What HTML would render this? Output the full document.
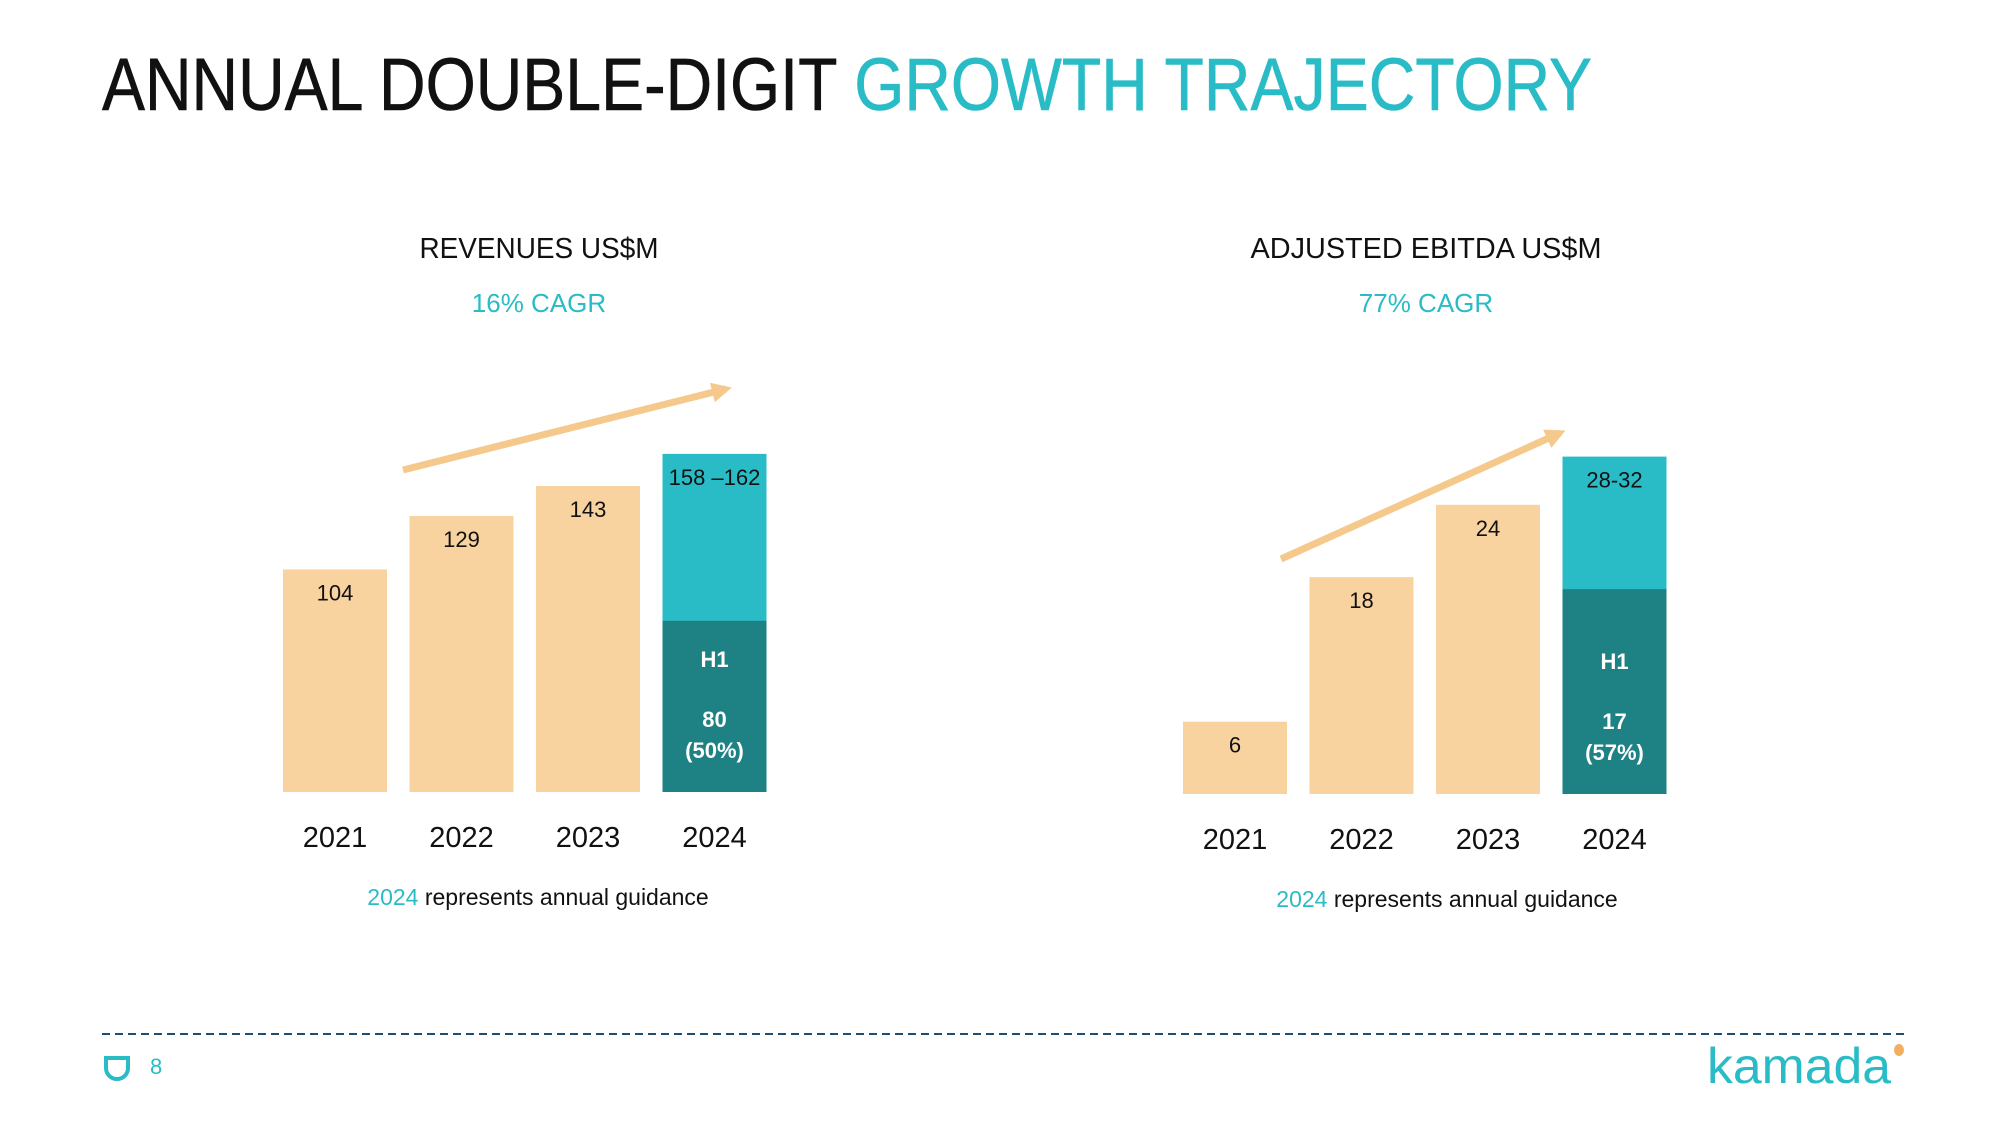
<!DOCTYPE html>
<html><head><meta charset="utf-8"><style>
body{margin:0;background:#fff}
svg{display:block;font-family:"Liberation Sans",sans-serif}
</style></head><body>
<svg id="s" width="2000" height="1125" viewBox="0 0 2000 1125">
<text x="102" y="110" font-size="74" textLength="1490" lengthAdjust="spacingAndGlyphs" stroke-width="0.6"><tspan fill="#111" stroke="#111">ANNUAL DOUBLE-DIGIT </tspan><tspan fill="#2abcc6" stroke="#2abcc6">GROWTH TRAJECTORY</tspan></text>
<text x="539" y="258" font-size="29" text-anchor="middle" fill="#111" textLength="239" lengthAdjust="spacingAndGlyphs">REVENUES US$M</text>
<text x="539" y="312" font-size="26" text-anchor="middle" fill="#2abcc6">16% CAGR</text>
<text x="1426" y="258" font-size="29" text-anchor="middle" fill="#111" textLength="351" lengthAdjust="spacingAndGlyphs">ADJUSTED EBITDA US$M</text>
<text x="1426" y="312" font-size="26" text-anchor="middle" fill="#2abcc6">77% CAGR</text>
<g id="c1"></g>
<g id="c2"></g>
<line x1="102" y1="1034" x2="1906" y2="1034" stroke="#1f4e6e" stroke-width="2" stroke-dasharray="8 5"/>
<path d="M106 1058 h22 v10 a11 11 0 1 1 -22 0 z" fill="none" stroke="#2abcc6" stroke-width="4"/>
<text x="150" y="1074" font-size="22" fill="#2abcc6">8</text>
<text x="1707" y="1083" font-size="50" fill="#2abcc6" textLength="184" lengthAdjust="spacingAndGlyphs">kamada</text>
<ellipse cx="1899" cy="1050" rx="5" ry="6" fill="#f0b060"/>
</svg>
<script>
const years=["2021","2022","2023","2024"];
const revValues=[104,129,143,158];
const revLabels=["104","129","143","158 –162"];
const revH1=80;
const revH1Label=["H1","80","(50%)"];
const ebValues=[6,18,24,28];
const ebLabels=["6","18","24","28-32"];
const ebH1=17;
const ebH1Label=["H1","17","(57%)"];
const NS="http://www.w3.org/2000/svg";
function mk(p,t,a){const e=document.createElementNS(NS,t);for(const k in a)e.setAttribute(k,a[k]);p.appendChild(e);return e;}
function draw(g,vals,labels,h1,h1l,cfg){
  const y=v=>cfg.base-v*cfg.k;
  vals.forEach((v,i)=>{
    const x=cfg.x0+i*cfg.step;
    const last=i===vals.length-1;
    const r=mk(g,"rect",{x:x,y:y(v),width:104,height:cfg.base-y(v),fill:last?"#2abcc6":"#f8d3a0"});
    
    
    const t=mk(g,"text",{x:x+52,y:y(v)+31,"font-size":22,"text-anchor":"middle",fill:"#111"});
    t.textContent=labels[i];
    
    
    const yl=mk(g,"text",{x:x+52,y:cfg.base+55,"font-size":29,"text-anchor":"middle",fill:"#111"});
    yl.textContent=years[i];
    
    
    if(last){
      const hr=mk(g,"rect",{x:x,y:y(h1),width:104,height:cfg.base-y(h1),fill:"#1e8285"});
      
      
      [[-125,h1l[0]],[-65,h1l[1]],[-34,h1l[2]]].forEach(([d,s])=>{
        const ht=mk(g,"text",{x:x+52,y:cfg.base+d,"font-size":22,"font-weight":"bold","text-anchor":"middle",fill:"#fff"});
        ht.textContent=s;
        
        
      });
    }
  });
  const a=cfg.arrow;
  const ln=mk(g,"line",{x1:a[0],y1:a[1],x2:a[2],y2:a[3],stroke:"#f5c98c","stroke-width":7});
  
  
  const ang=Math.atan2(a[3]-a[1],a[2]-a[0]);
  const L=20,W=10,ex=a[2]+Math.cos(ang)*6,ey=a[3]+Math.sin(ang)*6;
  const p=[[ex,ey],[ex-L*Math.cos(ang)+W*Math.sin(ang),ey-L*Math.sin(ang)-W*Math.cos(ang)],[ex-L*Math.cos(ang)-W*Math.sin(ang),ey-L*Math.sin(ang)+W*Math.cos(ang)]];
  const ah=mk(g,"polygon",{points:p.map(q=>q.join(",")).join(" "),fill:"#f5c98c"});
  
  
  const fn=mk(g,"text",{x:cfg.fx,y:cfg.base+113,"font-size":23,"text-anchor":"middle",fill:"#111"});
  fn.innerHTML='<tspan fill="#2abcc6">2024</tspan> represents annual guidance';
  
  
}
draw(document.getElementById('c1'),revValues,revLabels,revH1,revH1Label,{x0:283,step:126.5,base:792,k:2.14,arrow:[403,470,726,389],fx:538});
draw(document.getElementById('c2'),ebValues,ebLabels,ebH1,ebH1Label,{x0:1183,step:126.5,base:794,k:12.05,arrow:[1281,559,1560,433],fx:1447});
</script>
</body></html>
